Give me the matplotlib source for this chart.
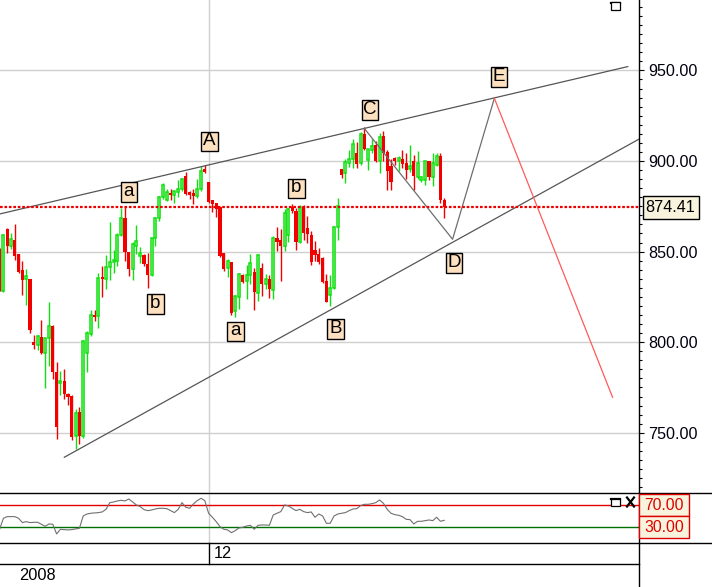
import matplotlib
matplotlib.use('Agg')
import matplotlib.pyplot as plt
from matplotlib.patches import Rectangle
from matplotlib.lines import Line2D
from matplotlib.transforms import IdentityTransform
from matplotlib.ticker import MultipleLocator, FixedLocator

plt.rcParams['font.family'] = ['Liberation Sans', 'DejaVu Sans']

# ---------------- data ----------------
opens = [851.0, 828.2, 862.4, 853.1, 856.5, 848.5, 839.6, 835.0, 834.7, 800.3,
         798.6, 802.9, 794.0, 802.3, 809.2, 783.5, 777.4, 778.7, 771.6, 770.5,
         748.2, 761.4, 748.2, 794.0, 804.5, 815.1, 814.2, 836.2, 835.0, 841.4,
         844.1, 844.9, 859.2, 868.3, 849.5, 840.5, 853.3, 847.8, 848.2, 843.0,
         837.0, 857.4, 868.5, 880.2, 878.3, 882.4, 881.1, 882.8, 884.3, 891.7,
         882.8, 882.4, 880.6, 884.6, 895.4, 888.3, 878.3, 876.7, 874.6, 849.0,
         840.8, 844.3, 817.3, 825.2, 836.9, 833.8, 836.9, 838.8, 827.4, 841.2,
         832.3, 834.7, 828.8, 857.7, 856.4, 853.1, 859.0, 874.8, 872.4, 855.3,
         874.4, 863.1, 859.0, 850.9, 848.5, 846.7, 833.6, 826.3, 829.7, 863.7,
         895.4, 893.2, 898.7, 900.9, 904.6, 898.7, 914.8, 900.5, 905.9, 909.0,
         899.8, 914.0, 904.8, 897.1, 901.7, 899.8, 901.1, 898.9, 895.6, 899.8,
         891.2, 889.3, 889.3, 899.8, 891.2, 898.0, 902.9, 878.7]

highs = [852.0, 859.8, 863.0, 860.2, 865.2, 848.8, 844.6, 840.2, 835.0, 804.2,
         804.2, 812.5, 802.5, 822.3, 809.5, 789.0, 784.2, 785.3, 771.8, 771.0,
         763.0, 764.0, 801.0, 806.0, 817.9, 817.5, 838.1, 842.1, 848.0, 866.5,
         850.9, 860.0, 873.9, 874.4, 850.0, 855.5, 864.7, 852.8, 848.5, 849.1,
         857.6, 869.1, 880.6, 887.6, 884.6, 884.6, 883.7, 889.4, 890.7, 893.9,
         883.2, 884.6, 889.8, 897.2, 897.6, 888.5, 878.7, 877.0, 874.8, 849.3,
         845.8, 844.5, 826.0, 838.4, 837.5, 842.5, 848.5, 841.2, 848.5, 843.9,
         837.5, 837.1, 858.6, 863.8, 862.3, 873.7, 874.3, 876.1, 874.3, 875.7,
         875.5, 869.9, 861.3, 855.8, 852.2, 846.9, 837.6, 837.2, 864.0, 879.6,
         895.6, 900.9, 906.0, 912.4, 910.6, 916.1, 918.8, 906.6, 912.1, 911.2,
         915.5, 916.7, 906.3, 901.1, 902.2, 902.9, 906.3, 904.4, 909.0, 903.5,
         905.3, 891.9, 899.8, 900.0, 904.4, 904.4, 904.4, 879.6]

lows = [828.0, 827.6, 849.4, 851.7, 845.4, 838.4, 826.3, 820.4, 805.1, 796.4,
        795.5, 793.6, 774.6, 786.6, 779.6, 746.5, 771.1, 768.5, 765.3, 745.9,
        741.2, 743.6, 747.0, 783.6, 803.2, 811.5, 807.8, 824.8, 829.4, 834.3,
        838.0, 842.0, 858.7, 845.0, 836.8, 834.3, 848.5, 843.6, 842.1, 829.7,
        836.8, 853.1, 866.7, 879.1, 877.8, 878.3, 876.9, 880.0, 883.3, 881.1,
        879.0, 876.3, 879.6, 883.7, 893.5, 876.9, 872.0, 869.1, 847.2, 839.3,
        835.7, 814.9, 814.1, 818.2, 832.4, 823.7, 832.3, 817.8, 822.8, 825.5,
        829.2, 824.6, 824.1, 850.4, 833.8, 850.4, 855.5, 871.5, 850.9, 854.6,
        856.4, 854.9, 842.7, 844.9, 843.4, 832.5, 822.0, 819.9, 829.4, 856.4,
        890.5, 887.8, 896.9, 896.0, 896.0, 897.8, 906.0, 895.1, 904.4, 899.3,
        893.4, 899.8, 884.2, 884.2, 898.0, 894.3, 896.0, 890.0, 893.7, 884.2,
        890.0, 888.2, 887.0, 889.5, 886.0, 897.0, 876.8, 868.5]

closes = [830.0, 859.2, 853.1, 856.8, 847.6, 838.9, 834.1, 836.3, 806.9, 798.6,
          803.2, 794.0, 802.3, 809.2, 783.5, 753.3, 778.7, 771.3, 770.0, 747.5,
          761.0, 748.2, 800.5, 805.0, 815.1, 813.9, 835.3, 835.0, 841.7, 844.5,
          845.4, 859.2, 868.3, 849.5, 840.3, 854.0, 856.1, 849.1, 843.2, 837.3,
          857.4, 868.5, 880.2, 886.5, 882.8, 881.1, 883.3, 884.6, 889.8, 881.9,
          881.3, 880.9, 884.6, 894.4, 893.9, 877.2, 876.3, 873.5, 847.6, 840.2,
          844.8, 816.3, 825.5, 837.5, 833.3, 836.9, 843.9, 827.7, 848.0, 832.3,
          834.7, 829.2, 857.7, 855.3, 853.1, 871.5, 873.7, 872.4, 855.1, 874.6,
          860.4, 859.5, 844.0, 848.0, 844.3, 833.0, 822.4, 830.0, 863.7, 875.4,
          892.3, 899.3, 900.9, 909.3, 898.4, 914.8, 906.4, 906.4, 908.5, 899.8,
          913.2, 904.4, 894.3, 888.2, 900.2, 901.7, 898.3, 895.2, 897.1, 891.5,
          898.9, 891.0, 899.8, 891.2, 898.9, 902.9, 878.7, 874.41]

rsi = [26.4, 46.4, 49.4, 49.4, 49.4, 46.4, 38.5, 40.3, 38.5, 39.1,
       39.1, 35.5, 31.8, 36.1, 35.5, 17.9, 26.4, 25.8, 25.2, 25.8,
       27.0, 28.2, 50.6, 54.2, 55.5, 56.1, 56.7, 57.9, 62.7, 74.8,
       76.1, 77.9, 79.1, 77.9, 81.5, 76.1, 70.6, 67.6, 62.1, 60.3,
       61.5, 63.3, 64.5, 64.5, 63.9, 60.3, 56.7, 62.7, 74.8, 66.4,
       64.5, 72.4, 78.5, 82.7, 78.5, 55.5, 48.2, 40.3, 31.2, 26.4,
       25.2, 20.3, 23.9, 28.8, 30.0, 32.4, 33.6, 26.4, 33.6, 34.2,
       34.2, 33.6, 52.4, 55.5, 58.5, 70.6, 68.8, 64.5, 60.3, 62.7,
       58.5, 56.7, 57.9, 48.2, 54.2, 50.6, 37.3, 37.3, 50.6, 54.2,
       55.5, 56.7, 60.3, 63.3, 63.9, 69.4, 71.8, 71.8, 73.0, 74.8,
       79.7, 73.6, 62.7, 55.5, 53.0, 51.8, 49.4, 44.5, 43.9, 36.1,
       40.9, 40.9, 42.1, 43.3, 42.1, 48.2, 40.9, 42.7]

last_price = 874.41
price_ticks = [750, 800, 850, 900, 950]
rsi_levels = [70, 30]
month_break = 55.1
month_label = '12'
year_label = '2008'

upper_x = [0.105, 165.3]
upper_y = [870.8, 952.1]
lower_x = [17.03, 168.2]
lower_y = [736.5, 912.0]
path_x = [95.97, 119.2, 130.2]
path_y = [918.0, 856.8, 934.6]
proj_x = [130.2, 161.3]
proj_y = [934.6, 769.6]

wave_labels = ['a', 'b', 'A', 'a', 'b', 'B', 'C', 'D', 'E']
wave_x = [34.05, 41.0, 55.2, 62.0, 78.1, 88.4, 97.5, 119.6, 131.4]
wave_y = [882.9, 821.1, 910.8, 806.0, 884.9, 807.4, 928.3, 843.7, 946.2]

# ---------------- layout ----------------
W, H = 712, 587
fig = plt.figure(figsize=(W / 100, H / 100), dpi=100, facecolor='white')

def fx(px):
    return px / W

def fy(py):
    return 1 - py / H

axis_px = 638.7
price_bot_px = 493.3
rsi_bot_px = 543.3
date_mid_px = 564.3

ax = fig.add_axes([0, fy(price_bot_px), fx(axis_px), 1 - fy(price_bot_px)])
rax = fig.add_axes([0, fy(rsi_bot_px), fx(axis_px), fy(price_bot_px) - fy(rsi_bot_px)])

xlim = (0.105, 168.18)
for a in (ax, rax):
    a.set_xlim(*xlim)
    a.set_facecolor('white')
    for s in a.spines.values():
        s.set_visible(False)
    a.set_xticks([])
ax.set_ylim(716.6, 988.85)
rax.set_ylim(0.9, 91.8)
rax.set_yticks([])

# grid
for v in price_ticks:
    ax.axhline(v, color='#cfcfcf', lw=1.0, zorder=0)
ax.axvline(month_break, color='#cfcfcf', lw=1.0, zorder=0)
rax.axvline(month_break, color='#cfcfcf', lw=1.0, zorder=0)

# y axis ticks on the right
ax.yaxis.tick_right()
ax.yaxis.set_major_locator(FixedLocator(price_ticks))
ax.set_yticklabels([f'{v:.2f}' for v in price_ticks])
ax.yaxis.set_minor_locator(MultipleLocator(5))
ax.tick_params(axis='y', which='major', length=3.8, width=0.8, color='black',
               labelsize=11.6, pad=3.0, labelcolor='#000010')
ax.tick_params(axis='y', which='minor', length=2.3, width=0.8, color='black')

# ---------------- candles ----------------
red = '#f20000'
green = '#10e010'
for i, (o, h, l, c) in enumerate(zip(opens, highs, lows, closes)):
    up = c >= o
    col = green if up else red
    ax.vlines(i, l, h, color=col, lw=1.0, zorder=2)
    lo, hi = min(o, c), max(o, c)
    if up:
        ax.bar(i, max(hi - lo, 0.3), bottom=lo, width=0.55, facecolor='#eaffea',
               edgecolor=col, linewidth=1.1, zorder=3)
    else:
        ax.bar(i, max(hi - lo, 0.6), bottom=lo, width=0.82, facecolor=col,
               edgecolor='none', zorder=3)

# trend lines
ax.plot(upper_x, upper_y, color='#555555', lw=0.9, zorder=4)
ax.plot(lower_x, lower_y, color='#555555', lw=0.9, zorder=4)
ax.plot(path_x, path_y, color='#6e6e6e', lw=0.9, zorder=4)
ax.plot(proj_x, proj_y, color='#ff5a5a', lw=0.9, zorder=4)

# last price dotted line
ax.axhline(last_price, color='#ee0000', lw=1.6, linestyle=(0, (1.2, 0.8)), zorder=5)

fig.canvas.draw()

# wave labels with fixed-size boxes
for s, x, y in zip(wave_labels, wave_x, wave_y):
    dx, dy = ax.transData.transform((x, y))
    fig.add_artist(Rectangle((dx - 8.3, dy - 9.8), 16.6, 19.6, transform=IdentityTransform(),
                             facecolor='#fde0bf', edgecolor='black', lw=1.0, zorder=10))
    fig.text(dx / W, (dy + 0.5) / H, s, ha='center', va='center', fontsize=13.5,
             color='black', zorder=11)

# last price box
_, ly = ax.transData.transform((0, last_price))
fig.add_artist(Rectangle((axis_px + 4, ly - 11.5), 56, 23, transform=IdentityTransform(),
                         facecolor='#f7f3dc', edgecolor='black', lw=1.0, zorder=10))
fig.text((axis_px + 6.5) / W, ly / H, f'{last_price:.2f}', ha='left', va='center',
         fontsize=11.6, color='black', zorder=11)

# ---------------- RSI ----------------
rax.plot(range(len(rsi)), rsi, color='#707070', lw=0.8, zorder=3)
rax.axhline(rsi_levels[0], color='#e00000', lw=1.0, zorder=2)
rax.axhline(rsi_levels[1], color='#007000', lw=1.0, zorder=2)
for lev in rsi_levels:
    _, ry = rax.transData.transform((0, lev))
    fig.add_artist(Rectangle((axis_px, ry - 11), 50.5, 22, transform=IdentityTransform(),
                             facecolor='#f7f3dc', edgecolor='#e00000', lw=1.0, zorder=10))
    fig.text((axis_px + 25.3) / W, ry / H, f'{lev:.2f}', ha='center', va='center',
             fontsize=11.3, color='#e00000', zorder=11)

# ---------------- frame lines ----------------
def fline(x0, y0, x1, y1, color='black', lw=1.0):
    fig.add_artist(Line2D([fx(x0), fx(x1)], [fy(y0), fy(y1)], color=color, lw=lw,
                          transform=fig.transFigure, zorder=9))

fline(0, price_bot_px, W, price_bot_px)
fline(0, rsi_bot_px, W, rsi_bot_px)
fline(0, date_mid_px, axis_px, date_mid_px)
fline(axis_px, 0, axis_px, H)
mx, _ = ax.transData.transform((month_break, 0))
fline(mx, rsi_bot_px, mx, date_mid_px)

fig.text((mx + 4.5) / W, fy(554), month_label, ha='left', va='center', fontsize=11.8)
fig.text(19 / W, fy(575), year_label, ha='left', va='center', fontsize=11.8)

# window icons
def icon_square(x0, y0, w, h):
    fig.add_artist(Rectangle((x0 / 1.0, H - y0 - h), w, h, transform=IdentityTransform(),
                             facecolor='white', edgecolor='black', lw=0.9, zorder=12))
    fline(x0, y0 + 0.8, x0 + w, y0 + 0.8, lw=1.6)

icon_square(611, 2, 9, 7.5)
icon_square(611, 498.5, 9, 7.5)
fline(627, 497.5, 634, 506.5, lw=1.6)
fline(627, 506.5, 634, 497.5, lw=1.6)

fig.savefig('out.png', dpi=100, facecolor='white')
